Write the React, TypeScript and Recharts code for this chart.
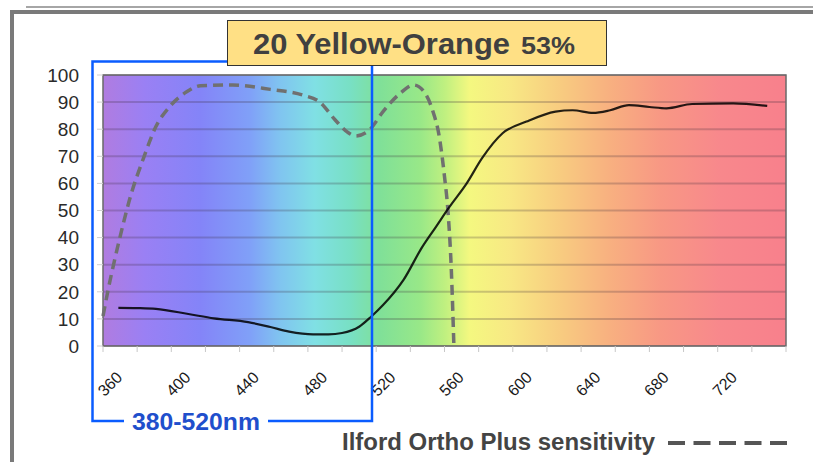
import { LineChart, Line, XAxis, YAxis, CartesianGrid, ReferenceArea } from 'recharts';

// wavelength ticks (nm) and which ones carry a label
const X_TICKS = [360, 380, 400, 420, 440, 460, 480, 500, 520, 540, 560, 580, 600, 620, 640, 660, 680, 700, 720, 740, 760];
const X_LABELS = [360, 400, 440, 480, 520, 560, 600, 640, 680, 720];
const Y_TICKS = [0, 10, 20, 30, 40, 50, 60, 70, 80, 90, 100];

// filter transmission (solid)
const FILTER_NM = [369, 380, 391, 410, 425, 445, 458, 469, 483, 492, 500, 510, 517, 524, 536, 547, 555, 563, 573, 582, 594, 608, 625, 635, 647, 657, 668, 680, 690, 705, 729, 749];
const FILTER_T = [14.1, 14.0, 13.7, 11.8, 10.2, 8.8, 7.0, 5.3, 4.3, 4.3, 4.8, 7.1, 10.8, 15.1, 24.4, 36.6, 44, 51.4, 60, 69.3, 78.5, 82.8, 86.5, 87, 86, 87, 88.9, 88.2, 87.7, 89.3, 89.5, 88.6];

// Ilford Ortho Plus sensitivity (dashed)
const ORTHO_NM = [360, 363, 370, 376, 384, 391, 399, 409, 417, 436, 458, 477, 487, 496, 503, 508, 516, 524, 534, 542, 548, 553, 557, 560, 562, 564, 565.5];
const ORTHO_S = [11, 20.7, 40.3, 55, 69.8, 81, 88.3, 93.8, 96, 96.3, 94.7, 92.6, 90, 83.4, 79, 77.5, 79.7, 86.5, 93.2, 96.3, 93.8, 87, 77, 62.5, 50, 28, 0];

// background spectrum, offsets across the plot width
const SPECTRUM_AT = [0, 0.061, 0.142, 0.215, 0.259, 0.31, 0.362, 0.406, 0.464, 0.501, 0.537, 0.596, 0.669, 0.742, 0.816, 0.903, 1];
const SPECTRUM_COLOR = ['#b07ce0', '#9a80f4', '#8484f8', '#80a0f8', '#80c4f0', '#80e0e4', '#78e0c4', '#80e098', '#98e888', '#c0f080', '#f4f880', '#f8e884', '#f8cc80', '#f8b080', '#f89884', '#f8888c', '#f8808c'];

const filterData = FILTER_NM.map((nm, i) => ({ nm, v: FILTER_T[i] }));
const orthoData = ORTHO_NM.map((nm, i) => ({ nm, v: ORTHO_S[i] }));

const FONT = "'Liberation Sans', Arial, sans-serif";

const XTick = (props: any) => {
  const { x, y, payload } = props;
  if (!X_LABELS.includes(payload.value)) return <g />;
  return (
    <text
      x={0}
      y={0}
      transform={`translate(${x + 7},${y + 30}) rotate(-45)`}
      textAnchor="middle"
      dominantBaseline="central"
      fontSize={16}
      fill="#1a1a1a"
      fontFamily={FONT}
    >
      {payload.value}
    </text>
  );
};

export default function App() {
  return (
    <div style={{ position: 'absolute', left: 0, top: 0, width: 813, height: 462, background: '#fff' }}>
      <LineChart width={813} height={462} margin={{ top: 75, right: 27, bottom: 76, left: 63 }}>
        <defs>
          <linearGradient id="spectrum" x1="0" y1="0" x2="1" y2="0">
            {SPECTRUM_AT.map((o, i) => (
              <stop key={i} offset={o} stopColor={SPECTRUM_COLOR[i]} />
            ))}
          </linearGradient>
        </defs>
        <CartesianGrid
          vertical={false}
          fill="url(#spectrum)"
          fillOpacity={1}
          stroke="rgba(60,40,60,0.24)"
          strokeWidth={2}
        />
        <XAxis
          dataKey="nm"
          type="number"
          domain={[360, 760]}
          ticks={X_TICKS}
          interval={0}
          axisLine={false}
          tickLine={{ stroke: '#c8c8c8' }}
          tickSize={6}
          height={40}
          tick={<XTick />}
        />
        <YAxis
          type="number"
          domain={[0, 100]}
          ticks={Y_TICKS}
          interval={0}
          width={40}
          axisLine={false}
          tickLine={{ stroke: '#d0d0d0' }}
          tickSize={6}
          tickMargin={18}
          tick={{ fontSize: 19, fill: '#2a2a2a', fontFamily: FONT }}
        />
        <ReferenceArea x1={360} x2={760} y1={0} y2={100} fill="none" stroke="#6a6a6a" strokeWidth={1.5} />
        <Line
          data={orthoData}
          dataKey="v"
          type="monotone"
          stroke="#707070"
          strokeWidth={3.5}
          strokeDasharray="10 6"
          dot={false}
          isAnimationActive={false}
        />
        <Line
          data={filterData}
          dataKey="v"
          type="monotone"
          stroke="#000"
          strokeOpacity={0.85}
          strokeWidth={2.2}
          dot={false}
          isAnimationActive={false}
        />
      </LineChart>

      <svg width={813} height={462} style={{ position: 'absolute', left: 0, top: 0, pointerEvents: 'none' }}>
        {/* frame */}
        <line x1={26} y1={7} x2={813} y2={7} stroke="#888" strokeWidth={1.5} />
        <line x1={10} y1={12} x2={813} y2={12} stroke="#7a7a7a" strokeWidth={4} />
        <line x1={12} y1={10} x2={12} y2={462} stroke="#7a7a7a" strokeWidth={4} />

        {/* highlighted range */}
        <rect x={92.5} y={61.5} width={279.5} height={359.5} fill="none" stroke="#0a5cff" strokeWidth={2.5} />
        <rect x={124} y={408} width={144} height={26} fill="#fff" />
        <text x={132} y={430} fontSize={24} fontWeight="bold" fill="#1f4fcc" fontFamily={FONT} textLength={128} lengthAdjust="spacingAndGlyphs">
          380-520nm
        </text>

        {/* title */}
        <rect x={227.5} y={20.5} width={379} height={45} fill="#ffe085" stroke="#333" strokeWidth={1} />
        <text x={253} y={54} fontSize={30} fontWeight="bold" fill="#404040" fontFamily={FONT} textLength={257} lengthAdjust="spacingAndGlyphs">
          20 Yellow-Orange
        </text>
        <text x={521} y={54} fontSize={23} fontWeight="bold" fill="#404040" fontFamily={FONT} textLength={54} lengthAdjust="spacingAndGlyphs">
          53%
        </text>

        {/* legend */}
        <text x={342} y={450} fontSize={23} fontWeight="bold" fill="#444" fontFamily={FONT} textLength={313} lengthAdjust="spacingAndGlyphs">
          Ilford Ortho Plus sensitivity
        </text>
        <line x1={668} y1={443} x2={787} y2={443} stroke="#555" strokeWidth={4} strokeDasharray="17 8.5" />
      </svg>
    </div>
  );
}
